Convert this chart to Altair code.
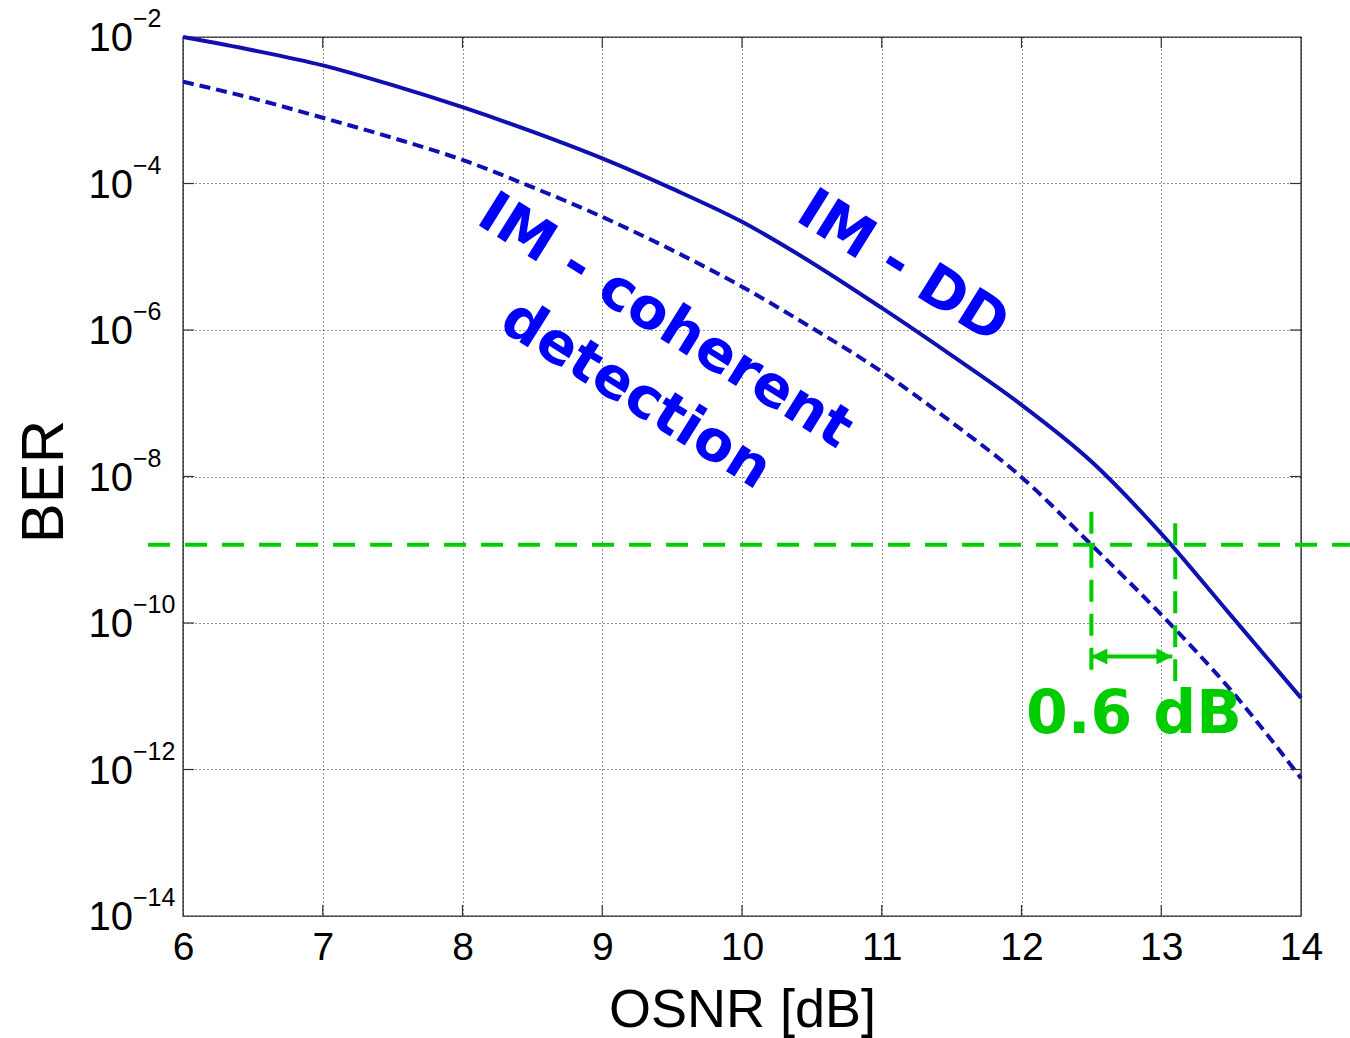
import altair as alt
import pandas as pd

# OSNR sweep (dB) and simulated bit error rates for the two receivers
osnr_db = [6.0, 6.5, 7.0, 7.5, 8.0, 8.5, 9.0, 9.5, 10.0, 10.5,
           11.0, 11.5, 12.0, 12.5, 13.0, 13.5, 14.0]
ber_im_dd = [1.0e-2, 6.6e-3, 4.1e-3, 2.2e-3, 1.1e-3, 5.1e-4, 2.2e-4, 8.5e-5, 3.0e-5, 8.3e-6,
             2.0e-6, 4.5e-7, 9.5e-8, 1.6e-8, 1.66e-9, 1.26e-10, 9.5e-12]
ber_im_coherent = [2.45e-3, 1.45e-3, 7.9e-4, 4.2e-4, 2.1e-4, 8.9e-5, 3.5e-5, 1.23e-5, 3.9e-6, 1.07e-6,
                   2.7e-7, 5.5e-8, 9.8e-9, 1.17e-9, 1.3e-10, 1.2e-11, 7.6e-13]

# axis ticks
x_ticks = [6, 7, 8, 9, 10, 11, 12, 13, 14]
y_tick_values = [1e-2, 1e-4, 1e-6, 1e-8, 1e-10, 1e-12, 1e-14]
y_tick_exponents = ["\u22122", "\u22124", "\u22126", "\u22128", "\u221210", "\u221212", "\u221214"]

# BER threshold and the OSNR each receiver needs to reach it
ber_threshold = 1.17e-9
threshold_span = [5.75, 14.35]
osnr_required = [12.5, 13.1]
marker_top = [3.3e-9, 2.3e-9]
marker_bottom = [2.1e-11, 1.5e-11]
arrow_ber = 3.5e-11
arrow_span = [12.5, 13.08]
penalty_label = "0.6 dB"
penalty_pos = (12.805, 5.6e-12)

# curve labels: text, x, y
curve_labels = ["IM - DD", "IM - coherent", "detection"]
curve_label_x = [11.15, 9.45, 9.24]
curve_label_y = [7.1e-6, 1.3e-6, 1.3e-7]

W, H = 1118, 879
BLUE_LINE = "#1010B0"
BLUE_TEXT = "#0000FF"
GREEN = "#00CC00"
SANS = "Liberation Sans"
BOLD = "DejaVu Sans"

x_scale = alt.Scale(domain=[6, 14], nice=False, zero=False)
y_scale = alt.Scale(type="log", domain=[1e-14, 1e-2], nice=False)

curves = pd.DataFrame({"osnr": osnr_db, "dd": ber_im_dd, "coh": ber_im_coherent})

x_axis = alt.Axis(values=x_ticks, format="d", grid=True, gridDash=[1, 3], gridColor="#000000",
                  gridOpacity=0.85, gridWidth=1, ticks=False, domain=False,
                  labelFont=SANS, labelFontSize=39, labelColor="#000000", labelPadding=12,
                  labelFlush=False, title="OSNR [dB]", titleFont=SANS, titleFontSize=54,
                  titleFontWeight="normal", titleColor="#000000", titleY=110,
                  titleBaseline="alphabetic")
y_axis = alt.Axis(values=y_tick_values, grid=True, gridDash=[1, 3], gridColor="#000000",
                  gridOpacity=0.85, gridWidth=1, ticks=False, domain=False, labels=False,
                  title="BER", titleFont=SANS, titleFontSize=60, titleFontWeight="normal",
                  titleColor="#000000", titleX=-121, titleY=444, titleBaseline="alphabetic",
                  titleAlign="center", titleAngle=270)

base = alt.Chart(curves)

dd_line = base.mark_line(color=BLUE_LINE, strokeWidth=4, interpolate="monotone").encode(
    x=alt.X("osnr:Q", scale=x_scale, axis=x_axis),
    y=alt.Y("dd:Q", scale=y_scale, axis=y_axis),
)
coh_line = base.mark_line(color=BLUE_LINE, strokeWidth=4, strokeDash=[11, 6],
                          interpolate="monotone").encode(
    x=alt.X("osnr:Q", scale=x_scale),
    y=alt.Y("coh:Q", scale=y_scale),
)

# inward tick marks on all four sides
xt = pd.DataFrame({"v": x_ticks[1:-1]})
yt = pd.DataFrame({"v": y_tick_values[1:-1]})
tick_style = dict(color="#333333", strokeWidth=1.2)
ticks = [
    alt.Chart(xt).mark_rule(**tick_style).encode(
        x=alt.X("v:Q", scale=x_scale), y=alt.value(H), y2=alt.value(H - 11)),
    alt.Chart(xt).mark_rule(**tick_style).encode(
        x=alt.X("v:Q", scale=x_scale), y=alt.value(0), y2=alt.value(11)),
    alt.Chart(yt).mark_rule(**tick_style).encode(
        y=alt.Y("v:Q", scale=y_scale), x=alt.value(0), x2=alt.value(11)),
    alt.Chart(yt).mark_rule(**tick_style).encode(
        y=alt.Y("v:Q", scale=y_scale), x=alt.value(W), x2=alt.value(W - 11)),
]

# y tick labels written as 10 with a raised exponent
ylab = pd.DataFrame({"v": y_tick_values, "exp": y_tick_exponents, "base": ["10"] * len(y_tick_values)})
ylab_base = alt.Chart(ylab).mark_text(font=SANS, fontSize=40, align="right", baseline="middle",
                                      color="#000000", dy=2).encode(
    y=alt.Y("v:Q", scale=y_scale), x=alt.value(-50), text="base:N")
ylab_exp = alt.Chart(ylab).mark_text(font=SANS, fontSize=25, align="left", baseline="middle",
                                     color="#000000", dy=-18).encode(
    y=alt.Y("v:Q", scale=y_scale), x=alt.value(-50), text="exp:N")

# threshold line
thr = pd.DataFrame({"x1": [threshold_span[0]], "x2": [threshold_span[1]], "y": [ber_threshold]})
thr_rule = alt.Chart(thr).mark_rule(color=GREEN, strokeWidth=4, strokeDash=[22, 15]).encode(
    x=alt.X("x1:Q", scale=x_scale), x2="x2:Q", y=alt.Y("y:Q", scale=y_scale))

# vertical markers at the required OSNR
vm = pd.DataFrame({"x": osnr_required, "top": marker_top, "bot": marker_bottom})
vm_rule = alt.Chart(vm).mark_rule(color=GREEN, strokeWidth=4, strokeDash=[22, 12]).encode(
    x=alt.X("x:Q", scale=x_scale), y=alt.Y("top:Q", scale=y_scale), y2="bot:Q")

# double-headed arrow showing the OSNR penalty
arr = pd.DataFrame({"x1": [arrow_span[0]], "x2": [arrow_span[1]], "y": [arrow_ber]})
arr_rule = alt.Chart(arr).mark_rule(color=GREEN, strokeWidth=4).encode(
    x=alt.X("x1:Q", scale=x_scale), x2="x2:Q", y=alt.Y("y:Q", scale=y_scale))
head_l = alt.Chart(arr).mark_point(shape="M0,0L1,-0.5L1,0.5Z", size=1024, filled=True,
                                   color=GREEN, opacity=1).encode(
    x=alt.X("x1:Q", scale=x_scale), y=alt.Y("y:Q", scale=y_scale))
head_r = alt.Chart(arr).mark_point(shape="M0,0L-1,-0.5L-1,0.5Z", size=1024, filled=True,
                                   color=GREEN, opacity=1).encode(
    x=alt.X("x2:Q", scale=x_scale), y=alt.Y("y:Q", scale=y_scale))

pen = pd.DataFrame({"x": [penalty_pos[0]], "y": [penalty_pos[1]], "t": [penalty_label]})
pen_text = alt.Chart(pen).mark_text(font=BOLD, fontWeight="bold", fontSize=60, color=GREEN,
                                    align="center", baseline="middle").encode(
    x=alt.X("x:Q", scale=x_scale), y=alt.Y("y:Q", scale=y_scale), text="t:N")

lab = pd.DataFrame({"x": curve_label_x, "y": curve_label_y, "t": curve_labels})
lab_text = alt.Chart(lab).mark_text(font=BOLD, fontWeight="bold", fontSize=57, color=BLUE_TEXT,
                                    align="center", baseline="middle", angle=32).encode(
    x=alt.X("x:Q", scale=x_scale), y=alt.Y("y:Q", scale=y_scale), text="t:N")

chart = alt.layer(
    dd_line, coh_line, *ticks, ylab_base, ylab_exp,
    thr_rule, vm_rule, arr_rule, head_l, head_r, pen_text, lab_text,
).properties(
    width=W, height=H,
    padding={"left": 183, "top": 37, "right": 49, "bottom": 122},
    autosize=alt.AutoSizeParams(type="none"),
    background="white",
).configure_view(stroke="#333333", strokeWidth=1.4)

chart.save("out.html", embed_options={"renderer": "svg", "actions": False})
